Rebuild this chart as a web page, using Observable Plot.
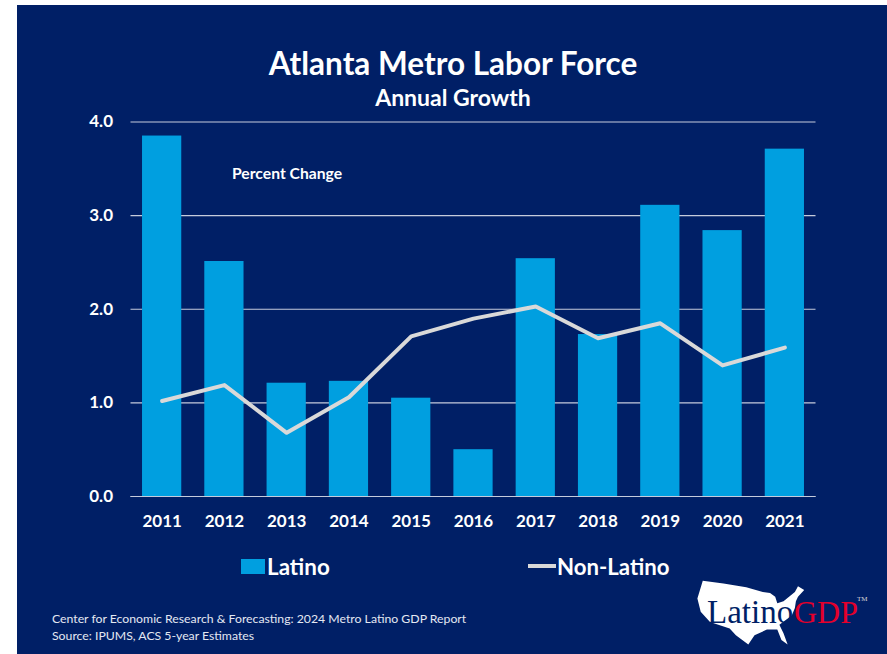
<!DOCTYPE html>
<html>
<head>
<meta charset="utf-8">
<script src="https://cdn.jsdelivr.net/npm/d3@7"></script>
<script src="https://cdn.jsdelivr.net/npm/@observablehq/plot@0.6"></script>
<style>
html,body{margin:0;padding:0;background:#fff;width:887px;height:654px;overflow:hidden;font-family:Lato,sans-serif;}
#panel{position:absolute;left:17px;top:5px;width:870px;height:649px;background:#001f66;}
#chart{position:absolute;left:0;top:0;}
.t{position:absolute;color:#fff;white-space:nowrap;}
#logoMap{position:absolute;left:680px;top:560px;width:207px;height:94px;background:#fff;
clip-path:polygon(11% 22%,21% 25%,32% 29%,40% 34%,43.5% 35%,46% 39%,47% 46%,50% 44%,55.5% 34%,57% 28%,60% 32%,57% 39%,56% 44%,55.5% 51%,54% 59%,48% 69%,50% 78%,52% 90%,49% 85%,47% 74%,42% 74%,36% 80%,33% 90%,27% 80%,24% 73%,18.5% 69%,14.5% 66%,10% 55%,8.4% 41%);
}
</style>
</head>
<body>
<div id="panel"></div>
<div id="chart"></div>
<div class="t" style="left:0;width:906px;text-align:center;top:44px;font-size:31.5px;font-weight:700">Atlanta Metro Labor Force</div>
<div class="t" style="left:0;width:906px;text-align:center;top:83px;font-size:23px;font-weight:700">Annual Growth</div>
<div class="t" style="left:232px;top:164px;font-size:15.7px;font-weight:700">Percent Change</div>
<div style="position:absolute;left:241px;top:559px;width:24px;height:15px;background:#009fe0"></div>
<div class="t" style="left:267px;top:553px;font-size:22.4px;font-weight:700">Latino</div>
<div style="position:absolute;left:528px;top:564px;width:28px;height:4px;background:#d9d9d9"></div>
<div class="t" style="left:557px;top:553px;font-size:22.2px;font-weight:700">Non-Latino</div>
<div class="t" style="left:52px;top:611px;font-size:12.25px;line-height:16.5px;color:#e4e8f2">Center for Economic Research &amp; Forecasting: 2024 Metro Latino GDP Report<br>Source: IPUMS, ACS 5-year Estimates</div>
<div id="logoMap"></div>
<div class="t" style="left:707px;top:594px;font-family:'Liberation Serif',serif;font-size:33px;color:#001f66">Latino</div>
<div class="t" style="left:794px;top:594px;font-family:'Liberation Serif',serif;font-size:32px;color:#e4002b">GDP</div>
<div class="t" style="left:857px;top:595px;font-family:'Liberation Serif',serif;font-size:7px;color:#d8d8d8">TM</div>
<script>
const years = ["2011","2012","2013","2014","2015","2016","2017","2018","2019","2020","2021"];
const latino = [3.85,2.51,1.21,1.23,1.05,0.5,2.54,1.73,3.11,2.84,3.71];
const nonLatino = [1.02,1.19,0.68,1.06,1.71,1.9,2.03,1.69,1.85,1.4,1.59];
const yTicks = [0,1,2,3,4];
const rows = years.map((year,i)=>({year,latino:latino[i],nonLatino:nonLatino[i]}));
const plot = Plot.plot({
  width:887,height:654,
  marginLeft:130.5,marginRight:71.5,marginTop:121.5,marginBottom:158,
  style:{background:"transparent",fontFamily:"Lato,sans-serif",overflow:"visible"},
  x:{type:"band",domain:years,paddingInner:0.37,paddingOuter:0.185,round:false,label:null},
  y:{domain:[0,4],label:null},
  marks:[
    Plot.ruleY(yTicks,{stroke:"#c5cbdc",strokeWidth:1.2}),
    Plot.barY(rows,{x:"year",y:"latino",fill:"#009fe0"}),
    Plot.ruleY([0],{stroke:"#c5cbdc",strokeWidth:1.2}),
    Plot.lineY(rows,{x:"year",y:"nonLatino",stroke:"#d9d9d9",strokeWidth:4,curve:"linear"}),
    Plot.axisY({ticks:yTicks,tickFormat:d=>d.toFixed(1),tickSize:0,tickPadding:18,color:"#fff",fontSize:17,fontWeight:700,label:null}),
    Plot.axisX({tickSize:0,tickPadding:18,color:"#fff",fontSize:17,fontWeight:700,label:null})
  ]
});
document.getElementById("chart").appendChild(plot);
</script>
</body>
</html>
